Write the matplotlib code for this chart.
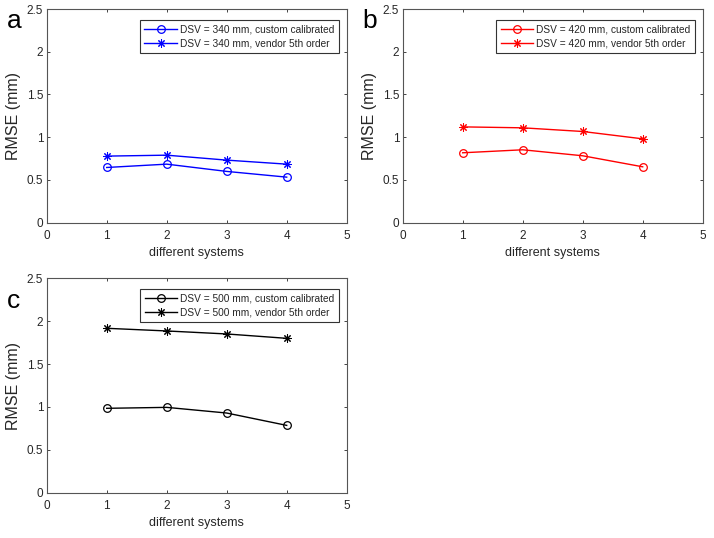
import matplotlib
matplotlib.use("Agg")
import matplotlib.pyplot as plt

plt.rcParams['font.family'] = ['Liberation Sans', 'DejaVu Sans']

systems = [1, 2, 3, 4]
xticks = [0, 1, 2, 3, 4, 5]
yticks = [0, 0.5, 1, 1.5, 2, 2.5]
ytick_labels = ['0', '0.5', '1', '1.5', '2', '2.5']

custom_340 = [0.646, 0.685, 0.600, 0.533]
vendor_340 = [0.779, 0.790, 0.732, 0.685]
custom_420 = [0.818, 0.853, 0.783, 0.654]
vendor_420 = [1.121, 1.110, 1.067, 0.981]
custom_500 = [0.984, 0.995, 0.929, 0.785]
vendor_500 = [1.917, 1.886, 1.851, 1.800]

panels = [
    ('a', '340', custom_340, vendor_340, (0, 0, 1)),
    ('b', '420', custom_420, vendor_420, (1, 0, 0)),
    ('c', '500', custom_500, vendor_500, (0, 0, 0)),
]

W, H = 714, 538
fig = plt.figure(figsize=(W / 100, H / 100), dpi=100)

# axes boxes in pixels: left, top, right, bottom
boxes = [
    (46.7, 9.0, 346.7, 222.7),
    (402.7, 9.0, 702.7, 222.7),
    (46.7, 278.3, 346.7, 492.7),
]
letter_offsets = [12, 12, 23]

txt = '#262626'
for (letter, dsv, cust, vend, col), (l, t, r, b), loff in zip(panels, boxes, letter_offsets):
    ax = fig.add_axes([l / W, 1 - b / H, (r - l) / W, (b - t) / H])
    ax.plot(systems, cust, '-', color=col, lw=1.0, marker='o', ms=5.5,
            mfc='none', mec=col, mew=0.9,
            label=f'DSV = {dsv} mm, custom calibrated')
    ax.plot(systems, vend, '-', color=col, lw=1.0, marker=(8, 2, 0), ms=6,
            mec=col, mew=0.75,
            label=f'DSV = {dsv} mm, vendor 5th order')
    ax.set_xlim(0, 5)
    ax.set_ylim(0, 2.5)
    ax.set_xticks(xticks)
    ax.set_yticks(yticks)
    ax.set_yticklabels(ytick_labels)
    ax.tick_params(direction='in', length=2.5, width=0.6, colors=txt,
                   labelsize=8.5, top=True, right=True)
    ax.tick_params(axis='x', pad=5.5)
    ax.tick_params(axis='y', pad=2.5)
    for s in ax.spines.values():
        s.set_color('#555555')
        s.set_linewidth(0.8)
    ax.set_xlabel('different systems', fontsize=9, color=txt, labelpad=3)
    ax.set_ylabel('RMSE (mm)', fontsize=11.5, color=txt)
    ax.yaxis.set_label_coords(-0.085, 0.5)
    leg = ax.legend(loc='upper right', bbox_to_anchor=(0.974, 0.9485),
                    fontsize=7.3, handlelength=3.2, handletextpad=0.3,
                    borderpad=0.45, labelspacing=0.38, fancybox=False,
                    framealpha=1, borderaxespad=0)
    leg.get_frame().set_edgecolor('#333333')
    leg.get_frame().set_linewidth(0.8)
    for tx in leg.get_texts():
        tx.set_color(txt)
    fig.text((l - 40) / W, 1 - (t + loff) / H, letter, fontsize=19,
             color='black', ha='left', va='center')

fig.savefig('out.png', dpi=100)
